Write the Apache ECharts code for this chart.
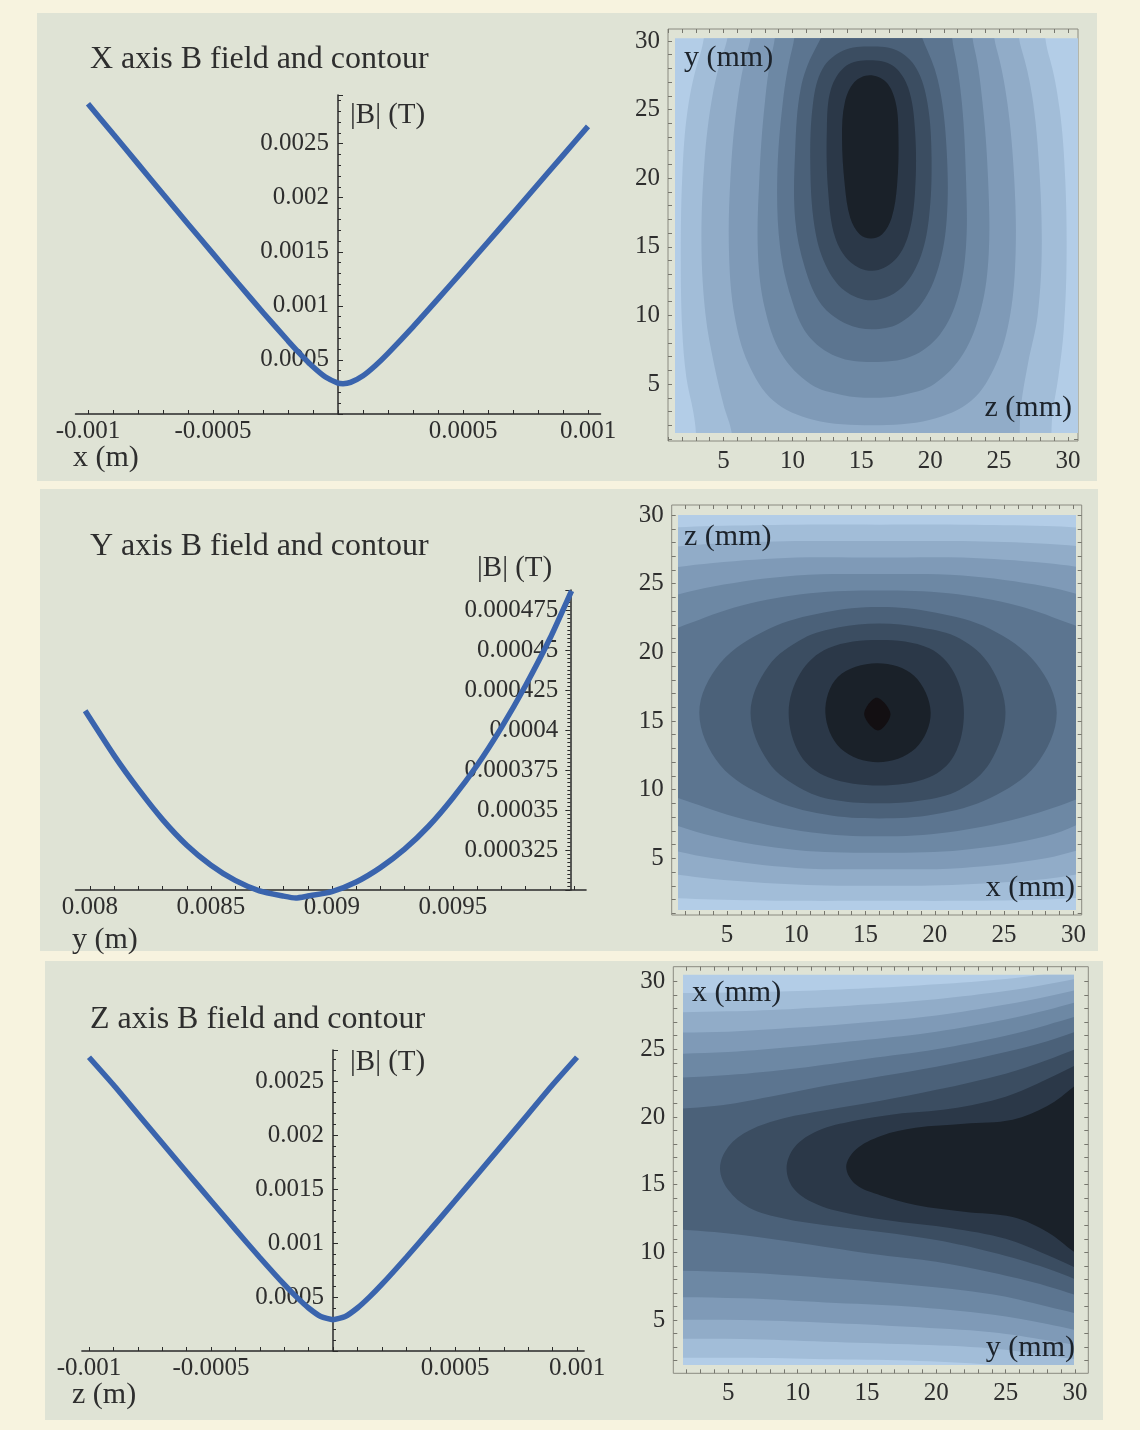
<!DOCTYPE html>
<html><head><meta charset="utf-8">
<script src="https://cdn.jsdelivr.net/npm/echarts@6/dist/echarts.min.js"></script>
<style>html,body{margin:0;padding:0;background:#f7f3df}#c{width:1140px;height:1430px}</style>
</head><body><div id="c"></div>
<script>
// ---------- line chart data ----------
const X_POS = [-0.001,-0.0009,-0.0008,-0.0007,-0.0006,-0.0005,-0.0004,-0.0003,-0.0002,-0.00015,-0.0001,-0.00005,0,0.00002,0.00005,0.0001,0.00015,0.0002,0.0003,0.0004,0.0005,0.0006,0.0007,0.0008,0.0009,0.001];
const X_B   = [0.00287,0.002591,0.002313,0.002035,0.001758,0.001483,0.001209,0.000939,0.000677,0.000552,0.000437,0.000342,0.000286,0.00028,0.000292,0.000354,0.000449,0.000561,0.000806,0.001064,0.001326,0.001591,0.001857,0.002125,0.002392,0.00266];
const Y_POS = [0.00798,0.0081,0.0082,0.0083,0.0084,0.0085,0.0086,0.0087,0.0088,0.00885,0.0089,0.009,0.0091,0.0092,0.0093,0.0094,0.0095,0.0096,0.0097,0.0098,0.0099,0.00999];
const Y_B   = [0.000412,0.000384,0.000363,0.000344,0.000328,0.0003155,0.000306,0.0002995,0.0002962,0.000295,0.0002962,0.000299,0.000305,0.000314,0.0003255,0.00034,0.0003577,0.000378,0.0004015,0.0004278,0.000457,0.000487];
const Z_POS = [-0.001,-0.0009,-0.0008,-0.0007,-0.0006,-0.0005,-0.0004,-0.0003,-0.0002,-0.00015,-0.0001,-0.00005,0,0.00005,0.0001,0.00015,0.0002,0.0003,0.0004,0.0005,0.0006,0.0007,0.0008,0.0009,0.001];
const Z_B   = [0.00272,0.002465,0.002195,0.001926,0.001658,0.001391,0.001126,0.000866,0.000616,0.000501,0.000398,0.00032,0.00029,0.00032,0.000398,0.000501,0.000616,0.000866,0.001126,0.001391,0.001658,0.001926,0.002195,0.002465,0.00272];

// ---------- tick labels ----------
const X_TICKS = [-0.001,-0.0009,-0.0008,-0.0007,-0.0006,-0.0005,-0.0004,-0.0003,-0.0002,-0.0001,0,0.0001,0.0002,0.0003,0.0004,0.0005,0.0006,0.0007,0.0008,0.0009,0.001];
const X_LABEL_VALS = [-0.001,-0.0005,0.0005,0.001];
const X_LABEL_TEXT = ['-0.001','-0.0005','0.0005','0.001'];
const B_LABEL_VALS = [0.0005,0.001,0.0015,0.002,0.0025];
const B_LABEL_TEXT = ['0.0005','0.001','0.0015','0.002','0.0025'];
const Y_TICKS = [0.008,0.0081,0.0082,0.0083,0.0084,0.0085,0.0086,0.0087,0.0088,0.0089,0.009,0.0091,0.0092,0.0093,0.0094,0.0095,0.0096,0.0097,0.0098,0.0099,0.01];
const Y_LABEL_VALS = [0.008,0.0085,0.009,0.0095];
const Y_LABEL_TEXT = ['0.008','0.0085','0.009','0.0095'];
const YB_LABEL_VALS = [0.000325,0.00035,0.000375,0.0004,0.000425,0.00045,0.000475];
const YB_LABEL_TEXT = ['0.000325','0.00035','0.000375','0.0004','0.000425','0.00045','0.000475'];
const MM_TICKS = [1,2,3,4,5,6,7,8,9,10,11,12,13,14,15,16,17,18,19,20,21,22,23,24,25,26,27,28,29,30];
const MM_LABEL_VALS = [5,10,15,20,25,30];
const MM_LABEL_TEXT = ['5','10','15','20','25','30'];

// ---------- contour levels (mm), index = level ----------
const A0=[[-2,-2],[33,-2],[33,33],[-2,33]];
const A1=[[5.0,33],[27.0,33],[28.6,29],[29.4,25],[29.8,20],[29.9,14],[29.7,9],[29.3,5.5],[28.9,3],[28.8,1.4],[28.8,-1],[3.0,-1],[3.0,1.4],[2.8,3],[2.3,5.5],[2.0,9],[1.9,14],[2.0,20],[2.4,25],[3.3,29]];
const A2=[[6.6,33],[25.3,33],[26.6,29.5],[27.4,26],[27.9,21],[28.1,15],[27.8,10],[27.1,6.5],[26.6,3.5],[26.5,1.4],[26.5,-1],[5.6,-1],[5.6,1.4],[5.0,3.5],[4.3,6.5],[3.7,10],[3.4,15],[3.6,21],[4.2,26],[5.1,29.5]];
const A3=[[8.3,33],[23.5,33],[24.8,29.5],[25.6,25.5],[26.1,20],[26.2,14.5],[25.8,10],[24.8,6.5],[23.0,3.8],[20.0,2.4],[15.8,2.0],[11.5,2.4],[8.6,3.8],[6.8,6.5],[5.8,10],[5.4,14.5],[5.5,20],[6.0,25.5],[6.8,29.5]];
const A4=[[9.8,33],[22.0,33],[23.2,29.5],[23.8,25.5],[24.2,20],[24.25,14.5],[23.7,10.5],[22.4,7.2],[20.3,5.0],[18.0,4.2],[15.8,4.0],[13.6,4.2],[11.3,5.0],[9.2,7.2],[8.0,10.5],[7.5,14.5],[7.6,20],[8.0,25.5],[8.6,29.5]];
const A5=[[11.2,33],[20.7,33],[21.7,29.5],[22.3,25.5],[22.6,20],[22.6,15],[22.0,11.3],[20.7,8.6],[18.6,7.0],[15.8,6.6],[13.2,7.0],[11.1,8.6],[9.9,11.3],[9.1,15],[8.9,20],[9.3,25.5],[10.0,29.5]];
const A6=[[13.3,31.5],[18.4,31.5],[19.8,29.3],[20.7,26.5],[21.2,22],[21.2,17],[20.6,13.5],[19.4,10.9],[17.7,9.4],[15.8,9.0],[13.9,9.4],[12.1,10.8],[10.9,13.5],[10.2,17],[10.2,22],[10.6,26.5],[11.6,29.3]];
const A7=[[15.7,29.6],[17.6,29.3],[19.0,28.0],[19.8,25.5],[20.1,21.5],[19.9,17],[19.2,14],[17.8,11.9],[15.8,11.1],[13.8,11.8],[12.4,13.7],[11.6,16.5],[11.3,21],[11.5,25.5],[12.2,28.0],[13.7,29.3]];
const A8=[[15.6,28.6],[17.3,28.2],[18.4,26.6],[18.9,23.5],[18.9,19],[18.4,15.8],[17.4,14.0],[15.8,13.25],[14.2,13.9],[13.1,15.7],[12.6,19],[12.5,23.5],[12.8,26.5],[13.9,28.2]];
const A9=[[15.6,27.5],[16.8,27.0],[17.5,25.5],[17.7,23],[17.6,19.5],[17.2,17.1],[16.5,15.9],[15.7,15.6],[14.9,15.9],[14.2,17.1],[13.8,19.5],[13.6,23],[13.8,25.5],[14.5,27.0]];

const B0=[[-2,-2],[33,-2],[33,33],[-2,33]];
const B1=[[-4,28.9],[-1,29.0],[4,29.2],[10,29.3],[16,29.3],[22,29.3],[28,29.2],[32,29.0],[35,28.9],[35,2.3],[32,2.2],[28,2.0],[22,1.9],[16,1.9],[10,1.9],[4,2.0],[-1,2.2],[-4,2.3]];
const B2=[[-4,27.3],[-1,27.5],[4,27.9],[10,28.1],[16,28.1],[22,28.1],[28,27.9],[32,27.6],[35,27.4],[35,4.3],[32,4.1],[28,3.5],[22,3.1],[16,3.0],[10,3.1],[4,3.5],[-1,4.1],[-4,4.3]];
const B3=[[-4,25.6],[-1,25.9],[4,26.5],[10,26.9],[16,26.9],[22,26.9],[28,26.5],[32,26.0],[35,25.7],[35,6.3],[32,6.0],[28,5.0],[22,4.3],[16,4.2],[10,4.3],[4,5.0],[-1,6.0],[-4,6.3]];
const B4=[[-4,23.0],[-1,23.6],[4,24.8],[10,25.6],[16,25.7],[22,25.6],[28,24.8],[32,23.8],[35,23.2],[35,8.6],[32,8.1],[28,6.6],[22,5.6],[16,5.4],[10,5.6],[4,6.6],[-1,8.1],[-4,8.6]];
const B5=[[-4,20.0],[-1,20.8],[2,22.0],[6,23.4],[11,24.3],[16,24.5],[21,24.3],[26,23.4],[30,22.0],[32,21.2],[35,20.4],[35,11.0],[32,10.2],[30,9.2],[26,7.9],[21,6.9],[16,6.6],[11,6.9],[6,7.9],[2,9.2],[-1,10.3],[-4,11.0]];
const B6=[[3.0,15.6],[4.5,19.2],[8,21.7],[12,22.9],[16,23.3],[20,22.9],[24,21.7],[27.3,19.2],[28.8,15.6],[27.3,11.8],[24,9.4],[20,8.2],[16,7.9],[12,8.2],[8,9.4],[4.5,11.8]];
const B7=[[6.7,15.6],[8,19.0],[10.5,21.0],[13,21.8],[16,22.1],[19,21.8],[21.8,21.0],[24,19.0],[25.1,15.6],[24,12.0],[21.8,10.0],[19,9.2],[16,9.0],[13,9.2],[10.5,10.0],[8,12.0]];
const B8=[[9.45,15.6],[10.3,18.5],[12.3,20.3],[16,20.9],[19.6,20.3],[21.4,18.5],[22.1,15.6],[21.4,12.5],[19.6,10.9],[16,10.3],[12.3,10.9],[10.3,12.5]];
const B9=[[12.1,15.6],[13.0,18.2],[15.8,19.2],[18.5,18.3],[19.7,15.6],[18.6,13.0],[15.9,12.0],[13.2,13.0]];
const B10=[[14.9,15.5],[15.8,16.7],[16.8,15.5],[15.9,14.3]];

const C0=[[-2,-2],[33,-2],[33,33],[-2,33]];
const C1=[[-4,29.0],[-1,29.1],[5,29.2],[10,29.3],[15,29.5],[20,29.8],[25,30.2],[28,30.6],[32,31.5],[35,32],[35,0.5],[32,0.8],[28,1.4],[24,1.7],[18,2.0],[12,2.1],[6,2.2],[-1,2.2],[-4,2.2]];
const C2=[[-4,27.6],[-1,27.7],[5,27.8],[10,28.0],[15,28.3],[20,28.7],[25,29.3],[28,29.8],[32,30.6],[35,31.2],[35,1.4],[32,1.8],[28,2.4],[24,2.9],[18,3.2],[12,3.4],[6,3.6],[-1,3.6],[-4,3.6]];
const C3=[[-4,26.1],[-1,26.2],[5,26.3],[10,26.6],[15,27.0],[20,27.5],[25,28.3],[28,28.9],[32,29.8],[35,30.4],[35,2.3],[32,2.8],[28,3.5],[24,4.1],[18,4.5],[12,4.8],[6,5.0],[-1,5.0],[-4,5.0]];
const C4=[[-4,24.5],[-1,24.6],[5,24.8],[10,25.2],[15,25.7],[20,26.3],[25,27.2],[28,27.9],[32,29.0],[35,29.7],[35,3.2],[32,3.8],[28,4.7],[24,5.4],[18,6.0],[12,6.3],[6,6.6],[-1,6.7],[-4,6.7]];
const C5=[[-4,22.7],[-1,22.8],[5,23.1],[10,23.6],[15,24.3],[20,25.0],[25,26.0],[28,26.8],[32,28.0],[35,28.8],[35,4.3],[32,5.0],[28,6.0],[24,6.9],[18,7.6],[12,8.1],[6,8.5],[-1,8.7],[-4,8.7]];
const C6=[[-4,20.4],[-1,20.5],[4,20.8],[8,21.5],[12,22.3],[16,23.0],[20,23.7],[25,24.8],[28,25.6],[32,27.0],[35,28.0],[35,5.4],[32,6.2],[28,7.5],[24,8.5],[20,9.3],[16,9.8],[12,10.4],[8,11.0],[4,11.5],[-1,11.8],[-4,11.8]];
const C7=[[4.4,16.2],[5.0,17.8],[6.5,19.0],[9,19.9],[12,20.5],[16,21.2],[20,22.0],[25,23.2],[28,24.2],[32,25.8],[35,27],[35,6.2],[32,7.2],[28,8.8],[24,10.0],[20,10.9],[16,11.5],[12,12.0],[9,12.5],[6.5,13.3],[5.0,14.6]];
const C8=[[9.2,16.2],[9.8,17.8],[11.5,19.0],[14,19.7],[17,20.2],[21,20.6],[25,21.5],[28,22.8],[32,24.8],[35,26],[35,7.0],[32,8.0],[28,9.8],[25,11.0],[21,11.8],[17,12.3],[14,12.8],[11.5,13.5],[9.8,14.6]];
const C9=[[13.5,16.3],[14.2,17.6],[16,18.6],[18.5,19.2],[22,19.5],[25.5,19.8],[28,20.8],[30,22.3],[32,24.0],[35,25.5],[35,7.5],[32,8.8],[30,10.0],[28,11.5],[25.5,12.6],[22,13.0],[18.5,13.5],[16,14.2],[14.2,15.0]];

const CONTOUR_A=[A0,A1,A2,A3,A4,A5,A6,A7,A8,A9];
const CONTOUR_B=[B0,B1,B2,B3,B4,B5,B6,B7,B8,B9,B10];
const CONTOUR_C=[C0,C1,C2,C3,C4,C5,C6,C7,C8,C9];
const PALETTE=['#b3cde7','#a2bdd8','#91acc8','#7f9ab7','#6d88a4','#5c7590','#4b6179','#3b4d61','#2b3848','#1a2129','#130f12'];

// ---------- layout ----------
const FONT='"Liberation Serif","Times New Roman",serif';
const TXT='#2e2e2e';
const LINE_BLUE='#3a64ad';

const frames=[
  {box:{left:668,top:29,width:410,height:412}, fx:[0.97,30.73], fy:[0.85,30.87], cx:[1.48,30.65], cy:[1.43,30.2], polys:CONTOUR_A},
  {box:{left:671.7,top:505,width:410,height:410}, fx:[1.01,30.6], fy:[0.87,30.73], cx:[1.49,30.12], cy:[1.24,30.0], polys:CONTOUR_B},
  {box:{left:673.3,top:966.7,width:415,height:406.6}, fx:[1.03,30.96], fy:[1.06,31.1], cx:[1.76,29.85], cy:[1.68,30.5], polys:CONTOUR_C}
];
function innerBox(f){
  const sx=f.box.width/(f.fx[1]-f.fx[0]), sy=f.box.height/(f.fy[1]-f.fy[0]);
  const l=f.box.left+(f.cx[0]-f.fx[0])*sx, r=f.box.left+(f.cx[1]-f.fx[0])*sx;
  const t=f.box.top+(f.fy[1]-f.cy[1])*sy, b=f.box.top+(f.fy[1]-f.cy[0])*sy;
  return {left:l,top:t,width:r-l,height:b-t};
}
function fmt(vals,texts){
  return function(v){
    for(let i=0;i<vals.length;i++){ if(Math.abs(v-vals[i])<Math.abs(vals[i])*1e-6+1e-12) return texts[i]; }
    return '';
  };
}
const labelBase={fontFamily:FONT,fontSize:25,color:TXT};

const grids=[], xAxes=[], yAxes=[], series=[];
function addGrid(g){ grids.push(Object.assign({outerBoundsMode:'none',containLabel:false},g)); return grids.length-1; }

// line chart grids
const lineDefs=[
  {box:{left:75.5,top:95,width:525,height:319}, xr:[-0.00105,0.00105], yr:[0,0.00295], xs:X_POS, bs:X_B, yAt:0},
  {box:{left:75.48,top:590,width:510.6,height:300}, xr:[0.00794,0.01005], yr:[0.0003,0.0004875], xs:Y_POS, bs:Y_B, yAt:0.009985},
  {box:{left:81.9,top:1050,width:502.2,height:301}, xr:[-0.001029,0.001029], yr:[0,0.002787], xs:Z_POS, bs:Z_B, yAt:0}
];
const axisLineStyle={color:'#2a2a2a',width:1.5};
lineDefs.forEach((d,i)=>{
  const gi=addGrid(d.box);
  const isY=(i===1);
  xAxes.push({gridIndex:gi,type:'value',min:d.xr[0],max:d.xr[1],
    axisLine:{show:true,onZero:false,lineStyle:axisLineStyle},
    axisTick:{show:true,inside:true,length:4,customValues:isY?Y_TICKS:X_TICKS,lineStyle:{color:'#2a2a2a',width:1}},
    axisLabel:Object.assign({customValues:isY?Y_LABEL_VALS:X_LABEL_VALS,formatter:isY?fmt(Y_LABEL_VALS,Y_LABEL_TEXT):fmt(X_LABEL_VALS,X_LABEL_TEXT),margin:5},labelBase),
    splitLine:{show:false}});
  const axisPx=d.box.left+(d.yAt-d.xr[0])/(d.xr[1]-d.xr[0])*d.box.width;
  let ya;
  if(isY){
    const off=-(d.box.left+d.box.width-axisPx);
    ya={gridIndex:gi,type:'value',position:'right',offset:off,min:d.yr[0],max:d.yr[1],interval:0.000025,
      axisLine:{show:true,onZero:false,lineStyle:axisLineStyle},
      axisTick:{show:true,inside:true,length:5,lineStyle:{color:'#2a2a2a'}},
      minorTick:{show:true,splitNumber:10,length:3,lineStyle:{color:'#2a2a2a'}},
      axisLabel:Object.assign({inside:true,margin:12,formatter:fmt(YB_LABEL_VALS,YB_LABEL_TEXT)},labelBase),
      splitLine:{show:false},minorSplitLine:{show:false}};
  } else {
    const off=-(axisPx-d.box.left);
    ya={gridIndex:gi,type:'value',position:'left',offset:off,min:d.yr[0],max:d.yr[1],interval:0.0005,
      axisLine:{show:true,onZero:false,lineStyle:axisLineStyle},
      axisTick:{show:true,inside:true,length:5,lineStyle:{color:'#2a2a2a'}},
      minorTick:{show:true,splitNumber:5,length:3,lineStyle:{color:'#2a2a2a'}},
      axisLabel:Object.assign({margin:9,formatter:fmt(B_LABEL_VALS,B_LABEL_TEXT)},labelBase),
      splitLine:{show:false},minorSplitLine:{show:false}};
  }
  yAxes.push(ya);
  series.push({type:'line',xAxisIndex:xAxes.length-1,yAxisIndex:yAxes.length-1,
    data:d.xs.map((x,k)=>[x,d.bs[k]]),symbol:'none',showSymbol:false,smooth:0.2,clip:false,
    lineStyle:{color:LINE_BLUE,width:5.5},z:5,silent:true});
});

// contour grids
frames.forEach(f=>{
  const gf=addGrid(Object.assign({show:true,borderColor:'#8a8a80',borderWidth:1,backgroundColor:'transparent'},f.box));
  const tickCfg={show:true,inside:true,length:4,customValues:MM_TICKS,lineStyle:{color:'#77776e',width:1}};
  xAxes.push({gridIndex:gf,type:'value',position:'bottom',min:f.fx[0],max:f.fx[1],axisLine:{show:false},axisTick:tickCfg,
    axisLabel:Object.assign({customValues:MM_LABEL_VALS,formatter:fmt(MM_LABEL_VALS,MM_LABEL_TEXT),margin:8},labelBase),splitLine:{show:false}});
  xAxes.push({gridIndex:gf,type:'value',position:'top',min:f.fx[0],max:f.fx[1],axisLine:{show:false},axisTick:tickCfg,axisLabel:{show:false},splitLine:{show:false}});
  yAxes.push({gridIndex:gf,type:'value',position:'left',min:f.fy[0],max:f.fy[1],axisLine:{show:false},axisTick:tickCfg,
    axisLabel:Object.assign({customValues:MM_LABEL_VALS,formatter:fmt(MM_LABEL_VALS,MM_LABEL_TEXT),margin:8},labelBase),splitLine:{show:false}});
  yAxes.push({gridIndex:gf,type:'value',position:'right',min:f.fy[0],max:f.fy[1],axisLine:{show:false},axisTick:tickCfg,axisLabel:{show:false},splitLine:{show:false}});
  const gc=addGrid(innerBox(f));
  xAxes.push({gridIndex:gc,type:'value',min:f.cx[0],max:f.cx[1],show:false});
  yAxes.push({gridIndex:gc,type:'value',min:f.cy[0],max:f.cy[1],show:false});
  const polys=f.polys;
  series.push({type:'custom',coordinateSystem:'cartesian2d',xAxisIndex:xAxes.length-1,yAxisIndex:yAxes.length-1,
    clip:true,silent:true,z:1,
    data:polys.map((p,i)=>[15,15,i]),
    renderItem:function(params,api){
      const lvl=api.value(2);
      const pts=polys[lvl].map(q=>api.coord(q));
      return {type:'polygon',shape:{points:pts,smooth:lvl===0?0:0.35},style:{fill:PALETTE[lvl],stroke:null}};
    }});
});

// ---------- texts & panels ----------
function txt(s,x,y,size,align,color){
  return {type:'text',x:x,y:y,z:50,silent:true,style:{text:s,font:size+'px '+FONT,fill:color||TXT,align:align||'left',verticalAlign:'middle'}};
}
const graphics=[
  {type:'rect',z:-10,silent:true,shape:{x:37,y:13,width:1060,height:468},style:{fill:'#dfe3d5'}},
  {type:'rect',z:-10,silent:true,shape:{x:40,y:489,width:1058,height:462},style:{fill:'#dfe3d5'}},
  {type:'rect',z:-10,silent:true,shape:{x:45,y:961,width:1058,height:459},style:{fill:'#dfe3d5'}},
  txt('X axis B field and contour',90,60,32),
  txt('Y axis B field and contour',90,547,32),
  txt('Z axis B field and contour',90,1020,32),
  txt('|B| (T)',350,115,29),
  txt('|B| (T)',477,568,29),
  txt('|B| (T)',350,1062,29),
  txt('x (m)',73,458,30),
  txt('y (m)',72,940,30),
  txt('z (m)',72,1395,30),
  txt('y (mm)',684,58,30,'left','#1c232b'),
  txt('z (mm)',1072,408,30,'right','#1c232b'),
  txt('z (mm)',684,537,30,'left','#1c232b'),
  txt('x (mm)',1075,888,30,'right','#1c232b'),
  txt('x (mm)',692,993,30,'left','#1c232b'),
  txt('y (mm)',1075,1348,30,'right','#1c232b')
];

const chart=echarts.init(document.getElementById('c'),null,{renderer:'canvas'});
chart.setOption({
  backgroundColor:'#f7f3df',
  animation:false,
  grid:grids, xAxis:xAxes, yAxis:yAxes, series:series,
  graphic:{elements:graphics}
});
</script></body></html>
